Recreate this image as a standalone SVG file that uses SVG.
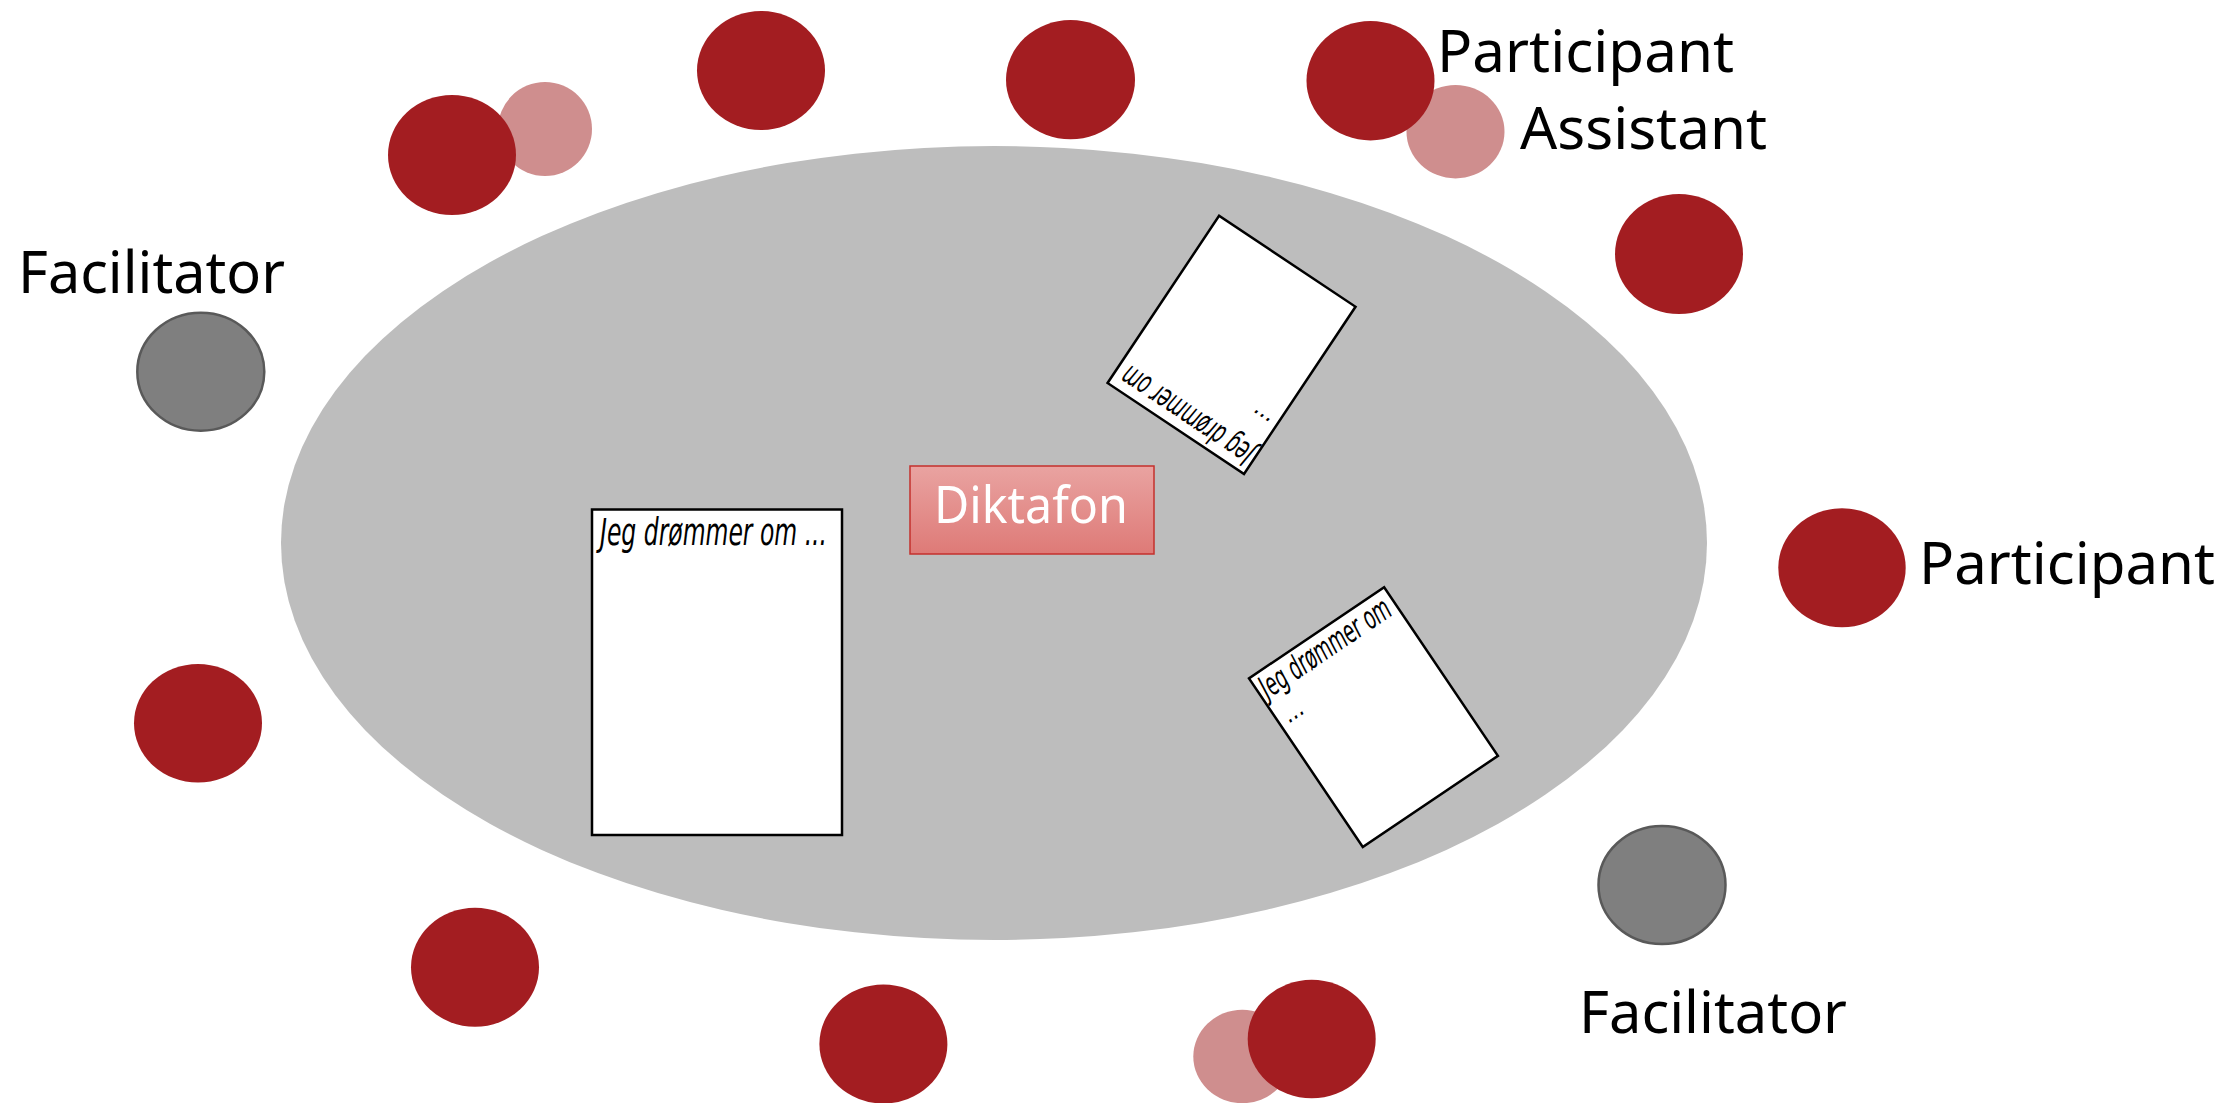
<svg xmlns="http://www.w3.org/2000/svg" width="2227" height="1103" viewBox="0 0 2227 1103">
<defs>
<linearGradient id="dg" x1="0" y1="0" x2="0" y2="1">
<stop offset="0" stop-color="#e9a3a1"/>
<stop offset="1" stop-color="#de7a77"/>
</linearGradient>
<style>
.p{fill:#a31d21}
.a{fill:#cf8e8e}
.f{fill:#7f7f7f;stroke:#595959;stroke-width:2.5}
.lbl{font-family:"Segoe UI","Noto Sans","Open Sans",sans-serif;font-size:59px;fill:#000}
.card{fill:#fff;stroke:#000;stroke-width:2.5}
.ct{font-family:"DejaVu Sans Condensed","Liberation Sans Narrow","DejaVu Sans",sans-serif;font-style:italic;fill:#000}
</style>
</defs>
<rect width="2227" height="1103" fill="#fff"/>
<g id="table"><ellipse cx="994" cy="543" rx="713" ry="397" fill="#bdbdbd"/></g>

<g id="assistant1"><ellipse class="a" cx="545" cy="129" rx="47" ry="47"/></g>
<g id="participant1"><ellipse class="p" cx="452" cy="155" rx="64" ry="60"/></g>
<g id="participant2"><ellipse class="p" cx="761" cy="70.5" rx="64" ry="59.5"/></g>
<g id="participant3"><ellipse class="p" cx="1070.5" cy="79.7" rx="64.5" ry="59.6"/></g>
<g id="assistant2"><ellipse class="a" cx="1455.5" cy="131.7" rx="49" ry="46.7"/>
<text class="lbl" x="1520" y="149.3" textLength="247" lengthAdjust="spacingAndGlyphs">Assistant</text></g>
<g id="participant4"><ellipse class="p" cx="1370.5" cy="80.7" rx="64" ry="59.7"/>
<text class="lbl" x="1437" y="71.7" textLength="297" lengthAdjust="spacingAndGlyphs">Participant</text></g>
<g id="participant5"><ellipse class="p" cx="1679" cy="254" rx="64" ry="60"/></g>
<g id="facilitator1"><ellipse class="f" cx="200.8" cy="371.7" rx="63.5" ry="59"/>
<text class="lbl" x="18" y="293.3" textLength="267" lengthAdjust="spacingAndGlyphs">Facilitator</text></g>
<g id="participant6"><ellipse class="p" cx="1842" cy="567.8" rx="63.7" ry="59.5"/>
<text class="lbl" x="1919" y="584.3" textLength="296" lengthAdjust="spacingAndGlyphs">Participant</text></g>
<g id="participant7"><ellipse class="p" cx="198" cy="723.3" rx="64" ry="59.3"/></g>
<g id="participant8"><ellipse class="p" cx="475" cy="967.2" rx="64" ry="59.5"/></g>
<g id="participant9"><ellipse class="p" cx="883.4" cy="1044" rx="64" ry="59.5"/></g>
<g id="facilitator2"><ellipse class="f" cx="1662" cy="885" rx="63.5" ry="59"/>
<text class="lbl" x="1579" y="1033.3" textLength="268" lengthAdjust="spacingAndGlyphs">Facilitator</text></g>
<g id="assistant3"><ellipse class="a" cx="1242.3" cy="1056.5" rx="49" ry="46.7"/></g>
<g id="participant10"><ellipse class="p" cx="1311.7" cy="1039" rx="64" ry="59.3"/></g>

<g id="card1">
<rect class="card" x="592" y="509.5" width="250" height="325.5"/>
<text class="ct" x="600" y="545" font-size="37" textLength="227" lengthAdjust="spacingAndGlyphs">Jeg drømmer om ...</text>
</g>
<g id="card2" transform="translate(1244 474) rotate(213.7)">
<rect class="card" x="0" y="0" width="164" height="201"/>
<text class="ct" x="4" y="28" font-size="32" textLength="152" lengthAdjust="spacingAndGlyphs">Jeg drømmer om</text>
<text class="ct" x="8" y="60" font-size="24">...</text>
</g>
<g id="card3" transform="translate(1249 678.3) rotate(-34)">
<rect class="card" x="0" y="0" width="163" height="203.5"/>
<text class="ct" x="4" y="28" font-size="32" textLength="152" lengthAdjust="spacingAndGlyphs">Jeg drømmer om</text>
<text class="ct" x="8" y="60" font-size="24">...</text>
</g>

<g id="diktafon">
<rect x="910" y="466" width="244" height="88" fill="url(#dg)" stroke="#c4302d" stroke-width="1.5"/>
<text x="1031" y="523.3" text-anchor="middle" font-family="Segoe UI, Noto Sans, Open Sans, sans-serif" font-size="51" fill="#fff" textLength="194" lengthAdjust="spacingAndGlyphs">Diktafon</text>
</g>
<g id="connectors"/>
</svg>
